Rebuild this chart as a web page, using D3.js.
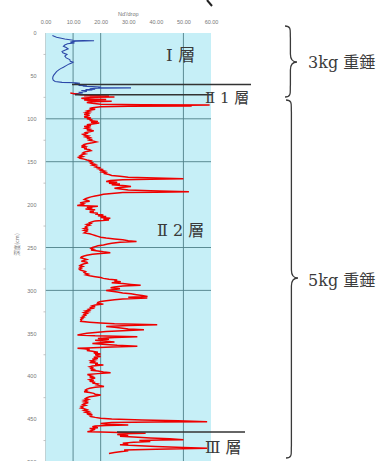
<!DOCTYPE html>
<html><head><meta charset="utf-8">
<script src="https://cdn.jsdelivr.net/npm/d3@7"></script>
<style>html,body{margin:0;padding:0;background:#fff;}svg{display:block;}</style>
</head><body>
<svg id="c" width="389" height="461"></svg>
<script>
// ---- data ----
const xTicks = [0, 10, 20, 30, 40, 50, 60];
const yTicks = [0, 50, 100, 150, 200, 250, 300, 350, 400, 450, 500];
const xGrid = [10, 20, 50];
const yGrid = [100, 150, 250, 300];
const xTitle = "Nd'/drop";
const yTitle = "深度(cm)";
// 3kg hammer trace (depth cm, Nd)
const blueDepth = [3,5,7,8.5,9,9.5,10.5,11.5,12.5,14,15.5,17,18.5,20,21.5,23,25,27,29,31,33,34,35,36,38,40,41.5,43,45,47,49,51,53,55,56.5,57.5,58,58.5,59,60,60.5,61,61.5,62,62.5,63,63.5,64,64.3,65,65.5,66,66.5,67,68,69,70,71];
const blueValue = [2.5,4,7,10,17.6,11,9,10.5,8,7,6.5,7.5,8.2,7,6,6.3,7.8,7,7.5,8.8,9,10,9.5,8.6,7.5,6.5,5.5,4.8,4,3.5,3,2.7,2.6,2.8,3.5,6,11,12.5,10.5,11.5,13,12,15,13.5,17,20,19,31,19,16,18,14.5,17,13,15,12,13.5,10];
// 5kg hammer trace (depth cm, Nd)
const redDepth = [70,71,72,72.5,73,73.5,74,74.5,75,76,77,77.5,78,79,79.5,80,81,82,83,83.5,84,84.5,85,85.5,86,87,88,89,90,91,92,93,94,95,96,97,98,99,100,101,102,103,104,105,106,107,108,109,110,111,112,113,114,115,116,117,118,119,120,121,122,123,124,125,126,127,128,129,130,131,132,133,134,135,136,137,138,139,140,141,142,143,144,145,146,147,148,149,150,151,152,153,154,155,156,157,158,159,160,161,162,163,164,165,166,167,168,169,170,170.5,171,172,173,174,175,176,177,178,179,180,181,182,183,184,185,185.5,186,187,188,189,190,191,192,193,194,195,196,197,198,199,200,201,202,203,204,205,206,207,208,209,210,211,212,213,214,215,216,217,218,219,220,221,222,223,224,225,226,227,228,229,230,231,232,233,234,235,236,237,238,239,240,241,242,243,244,245,246,247,248,249,250,251,252,253,254,255,256,257,258,259,260,261,262,263,264,265,266,267,268,269,270,271,272,273,274,275,276,277,278,279,280,281,282,283,284,285,286,287,288,289,290,291,292,293,294,295,296,297,298,299,300,301,302,303,304,305,306,307,308,309,310,311,312,313,314,315,316,317,318,319,320,321,322,323,324,325,326,327,328,329,330,331,332,333,334,335,336,337,338,339,340,341,342,343,344,345,346,347,348,349,350,351,352,353,354,355,356,357,358,359,360,361,362,363,364,365,366,367,367.5,368,369,370,371,372,373,374,375,376,377,378,379,380,381,382,383,384,385,386,387,388,389,390,391,392,393,394,395,396,397,398,399,400,401,402,403,404,405,406,407,408,409,410,411,412,413,414,415,416,417,418,419,420,421,422,423,424,425,426,427,428,429,430,431,432,433,434,435,436,437,438,439,440,441,442,443,444,445,446,447,448,449,450,451,452,453,453.5,454,455,456,457,457.5,458,459,460,461,462,463,464,464.7,465,466,466.6,467,468,469,470,471,472,473,474,474.5,475,476,477,478,479,480,481,482,483,484,485,486,487,488,489,490];
const redValue = [9,11,13,20,14,23,16,25,18,13,15,22,14,18,24,16,15,17,20,35,59.5,45,53,30,20,17,16,18,16,15,16,14.5,15.5,14,16,15,14,16.5,15,17,16,19,16.5,19.5,17,15,16.5,14,15.5,14.5,16,15,17.5,16,14.5,15,13.5,14,15.5,14.5,16,15,17,16,17.5,18.5,17,15,14,13.5,14.5,13,15,14,16,16.5,15,14,13.5,14.5,13,12.5,13.5,12,12.5,14,15,16.5,16,17,16.5,18,17,18.5,18,19.5,19,20.5,20,21.5,20.5,22,21.5,23,24,27,30,40,50,38,28,23.5,22,26,23,27,24,29,31,27,25,28,30,38,52,40,28,24,21,19.5,18,16.5,15.5,14.5,14,15,16,14,12.5,14,13.5,11.5,19,15,17,14.5,18,16,17.5,16,19,18,21,19,22,20,23.5,21,23,18,17,16,16.5,15,16,15,14.5,15,14,15.5,14,15,14.5,14,16,17,18,19,20,22,25,28,30,33,27,24,22.5,21,19,18,17,16.5,17.5,16.5,19,21,23.5,20,17,15,14,13,12.8,14,15,14,13,15,15.2,14,13,12.5,13.5,12.5,13,12.2,12.5,13.5,14.5,14,14.5,15.5,14.6,16,18,20,21,23,26,25,27.3,24,28,31,34.5,28,25,23.6,27,25,22,24,26,28,31,33,35,37,30,36.9,28,25,22,20,19,18.8,21,18,17,18,16,17,15.5,16,14.5,15.5,14,15,14,14.5,13.5,14,13,13.5,12.8,13,12.8,16,20,25,40.5,30,22,25,28,30,35.7,28,22,18,15,13,11.6,18,33.3,25,19,23,18,21,25,20,17,22,26,33.3,24,15,11.6,14,16,15,17,19,17.5,20,18,19,20,17.5,19,17,18,16.5,17.5,16,19,18,21,17,16,17,16.5,17.5,16.4,19,21,23.6,19,15.2,16,17,16,18,17,16,17.5,16,18,17,19,18.5,20,21.2,18,16,15,14.5,15,14,16,17.5,18,20,18,16,15,14.5,15.5,14,15,14,15.5,14,13.5,14.5,13,13.5,12.8,14,15,14,15.5,14.5,16,15,17,16,16.4,18,20,24,35,48,58.6,40,24,20,22,30,22,18,17,19,16,18,17,16,15.2,20,30,36.3,28,26,30,27,32,38,45,50,42,34,38,32,28,30,27,34,40,50,58.6,40,28.5,30,27,25,23];

// ---- layout ----
const svg = d3.select("#c");
const L = 45.5, R = 211, T = 33, B = 462;
const x = d3.scaleLinear().domain([0, 60]).range([L, R]);
const y = d3.scaleLinear().domain([0, 500]).range([T, B]);

svg.append("rect").attr("x", L).attr("y", T).attr("width", R - L).attr("height", B - T)
  .attr("fill", "#c6eff7");

// gridlines
svg.append("g").selectAll("line").data(xGrid).join("line")
  .attr("x1", d => x(d)).attr("x2", d => x(d)).attr("y1", T).attr("y2", B)
  .attr("stroke", "#4f8088").attr("stroke-width", 0.9);
svg.append("g").selectAll("line").data(yGrid).join("line")
  .attr("x1", L).attr("x2", R).attr("y1", d => y(d)).attr("y2", d => y(d))
  .attr("stroke", "#4f8088").attr("stroke-width", 0.9);
// left border
svg.append("line").attr("x1", L).attr("x2", L).attr("y1", T).attr("y2", B)
  .attr("stroke", "#b8c8cc").attr("stroke-width", 0.8);

// axes
const xAxis = svg.append("g").attr("transform", `translate(0,${T - 6})`)
  .call(d3.axisTop(x).tickValues(xTicks).tickSize(0).tickFormat(d3.format(".2f")));
xAxis.select(".domain").remove();
xAxis.selectAll("text").attr("fill", "#777").attr("font-size", 5.5).attr("font-family", "Liberation Sans, Arial");

const yAxis = svg.append("g").attr("transform", `translate(${L - 6},0)`)
  .call(d3.axisLeft(y).tickValues(yTicks).tickSize(0).tickFormat(d3.format("d")));
yAxis.select(".domain").remove();
yAxis.selectAll("text").attr("fill", "#777").attr("font-size", 5.5).attr("font-family", "Liberation Sans, Arial");
// minor ticks
svg.append("g").selectAll("line").data(d3.range(25, 500, 50)).join("line")
  .attr("x1", L - 2).attr("x2", L).attr("y1", d => y(d)).attr("y2", d => y(d))
  .attr("stroke", "#aaa").attr("stroke-width", 0.7);

svg.append("text").attr("x", (x(20) + x(40)) / 2 + 0).attr("y", 16).attr("text-anchor", "middle")
  .attr("font-size", 5.5).attr("fill", "#777").attr("font-family", "Liberation Sans, Arial").text(xTitle);
svg.append("text").attr("transform", `translate(19,${y(250) - 3}) rotate(-90)`).attr("text-anchor", "middle")
  .attr("font-size", 5.5).attr("fill", "#777").attr("font-family", "Noto Sans CJK JP").text(yTitle);

// traces
const line = d3.line().x(d => x(d[1])).y(d => y(d[0]));
svg.append("path").datum(blueDepth.map((d, i) => [d, blueValue[i]]))
  .attr("d", line).attr("fill", "none").attr("stroke", "#2b47a8").attr("stroke-width", 1.1);
svg.append("path").datum(redDepth.map((d, i) => [d, redValue[i]]))
  .attr("d", line).attr("fill", "none").attr("stroke", "#ee0000").attr("stroke-width", 1.5)
  .attr("stroke-linejoin", "miter");

// layer boundary lines
const bnd = [[60, 72, 251], [72, 75, 212], [465, 117, 245]];
svg.append("g").selectAll("line").data(bnd).join("line")
  .attr("x1", d => d[1]).attr("x2", d => d[2]).attr("y1", d => y(d[0])).attr("y2", d => y(d[0]))
  .attr("stroke", "#333").attr("stroke-width", 1.4);

const serif = "DejaVu Serif, Liberation Serif, Noto Sans CJK JP";
function lab(parts, xx, yy, fs) {
  const t = svg.append("text").attr("x", xx).attr("y", yy).attr("font-size", fs).attr("fill", "#3a3a3a")
    .attr("xml:space", "preserve");
  parts.forEach(p => t.append("tspan").attr("font-family", p[1] === "s" ? serif : "Noto Sans CJK JP").text(p[0]));
}
lab([["Ⅰ ", "s"], ["層", "c"]], 166, 61, 17);
lab([["Ⅱ 1 ", "s"], ["層", "c"]], 205, 103, 15);
lab([["Ⅱ 2 ", "s"], ["層", "c"]], 157, 236, 16);
lab([["Ⅲ ", "s"], ["層", "c"]], 205, 453, 16);
lab([["3kg ", "s"], ["重錘", "c"]], 308, 68, 16);
lab([["5kg ", "s"], ["重錘", "c"]], 308, 286, 16);

// braces
function brace(xx, y0, y1, ym, w) {
  const p = `M${xx},${y0} C${xx + w * 0.6},${y0} ${xx + w * 0.4},${y0 + 6} ${xx + w * 0.45},${y0 + 12}
    L${xx + w * 0.45},${ym - 8} C${xx + w * 0.45},${ym - 2} ${xx + w * 0.7},${ym} ${xx + w},${ym}
    C${xx + w * 0.7},${ym} ${xx + w * 0.45},${ym + 2} ${xx + w * 0.45},${ym + 8}
    L${xx + w * 0.45},${y1 - 12} C${xx + w * 0.4},${y1 - 6} ${xx + w * 0.6},${y1} ${xx},${y1}`;
  svg.append("path").attr("d", p).attr("fill", "none").attr("stroke", "#3a3a3a").attr("stroke-width", 1.3);
}
brace(285, 26, 97, 62, 12);
brace(286, 100, 458, 278, 12);

svg.append("line").attr("x1", 207).attr("y1", 0).attr("x2", 212).attr("y2", 6)
  .attr("stroke", "#222").attr("stroke-width", 2);
</script>
</body></html>
